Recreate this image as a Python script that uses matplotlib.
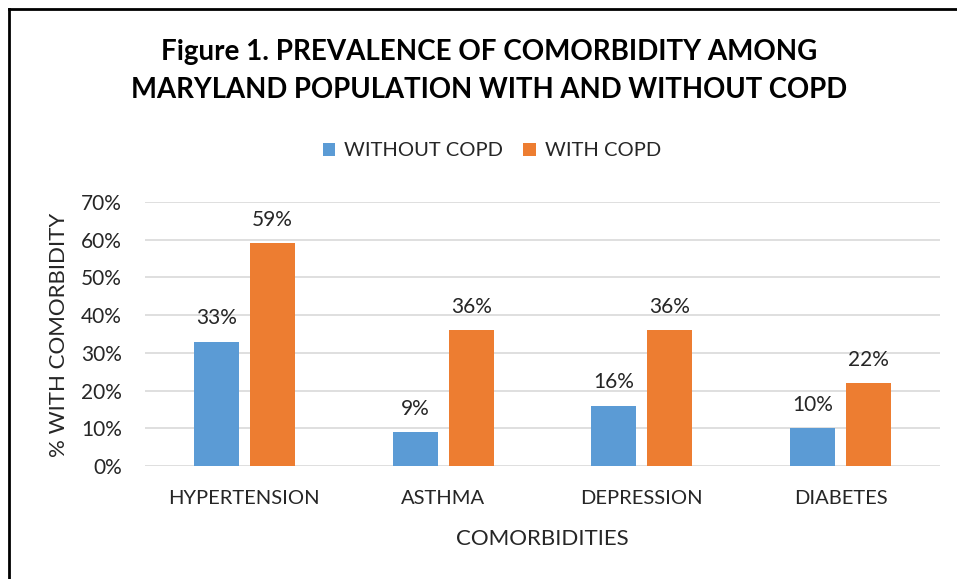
import numpy as np
import matplotlib
matplotlib.use('Agg')
import matplotlib.pyplot as plt
from matplotlib.lines import Line2D

categories = ['HYPERTENSION', 'ASTHMA', 'DEPRESSION', 'DIABETES']
without_copd = [0.33, 0.09, 0.16, 0.10]
with_copd = [0.59, 0.36, 0.36, 0.22]
series_names = ['WITHOUT COPD', 'WITH COPD']
yticks = [0.0, 0.1, 0.2, 0.3, 0.4, 0.5, 0.6, 0.7]

plt.rcParams['font.family'] = ['Lato', 'DejaVu Sans']
txt = '#262626'

W, H = 957, 579
fig = plt.figure(figsize=(W / 100, H / 100), dpi=100)
ax = fig.add_axes([145 / W, 1 - 466 / H, (940 - 145) / W, (466 - 202) / H])

x = np.arange(len(categories))
bw = 0.226
off = 0.141
b1 = ax.bar(x - off, without_copd, bw, color='#5B9BD5', label=series_names[0], zorder=3)
b2 = ax.bar(x + off, with_copd, bw, color='#ED7D31', label=series_names[1], zorder=3)

for bars, vals in ((b1, without_copd), (b2, with_copd)):
    for r, v in zip(bars, vals):
        ax.annotate('%d%%' % round(v * 100), (r.get_x() + r.get_width() / 2, v),
                    xytext=(0, 12.6), textcoords='offset points', ha='center', va='baseline',
                    fontsize=15, color=txt)

ax.set_xlim(-0.5, 3.5)
ax.set_ylim(0, 0.7)
ax.set_yticks(yticks)
ax.set_yticklabels(['%d%%' % round(t * 100) for t in yticks], fontsize=15, color=txt)
ax.set_xticks(x)
ax.set_xticklabels(categories, fontsize=14.5, color=txt)
ax.tick_params(length=0, axis='y', pad=16.5)
ax.tick_params(length=0, axis='x', pad=17.5)
ax.grid(axis='y', color='#D9D9D9', linewidth=1.2, zorder=0)
for s in ax.spines.values():
    s.set_visible(False)

# axis titles
fig.text(65 / W, 1 - 335 / H, '% WITH COMORBIDITY', rotation=90, rotation_mode='anchor',
         ha='center', va='baseline', fontsize=16, color=txt)
fig.text(542 / W, 1 - 545 / H, 'COMORBIDITIES', ha='center', va='baseline', fontsize=16, color=txt)

# title
fig.text(489 / W, 1 - 60 / H, 'Figure 1. PREVALENCE OF COMORBIDITY AMONG',
         ha='center', va='baseline', fontsize=20, fontweight='bold', color='black')
fig.text(489 / W, 1 - 98 / H, 'MARYLAND POPULATION WITH AND WITHOUT COPD',
         ha='center', va='baseline', fontsize=19.8, fontweight='bold', color='black')

fig.legend(loc='center', bbox_to_anchor=(492 / W, 1 - 151 / H), ncol=2, frameon=False,
           fontsize=14.5, handlelength=0.6, handleheight=0.6, columnspacing=1.0,
           handletextpad=0.45, labelcolor=txt)

fig.add_artist(Line2D([8.5 / W, 8.5 / W], [0, 1 - 9 / H], color='black', linewidth=2))
fig.add_artist(Line2D([8.5 / W, 1], [1 - 9 / H, 1 - 9 / H], color='black', linewidth=2))

fig.savefig('out.png', dpi=100)
